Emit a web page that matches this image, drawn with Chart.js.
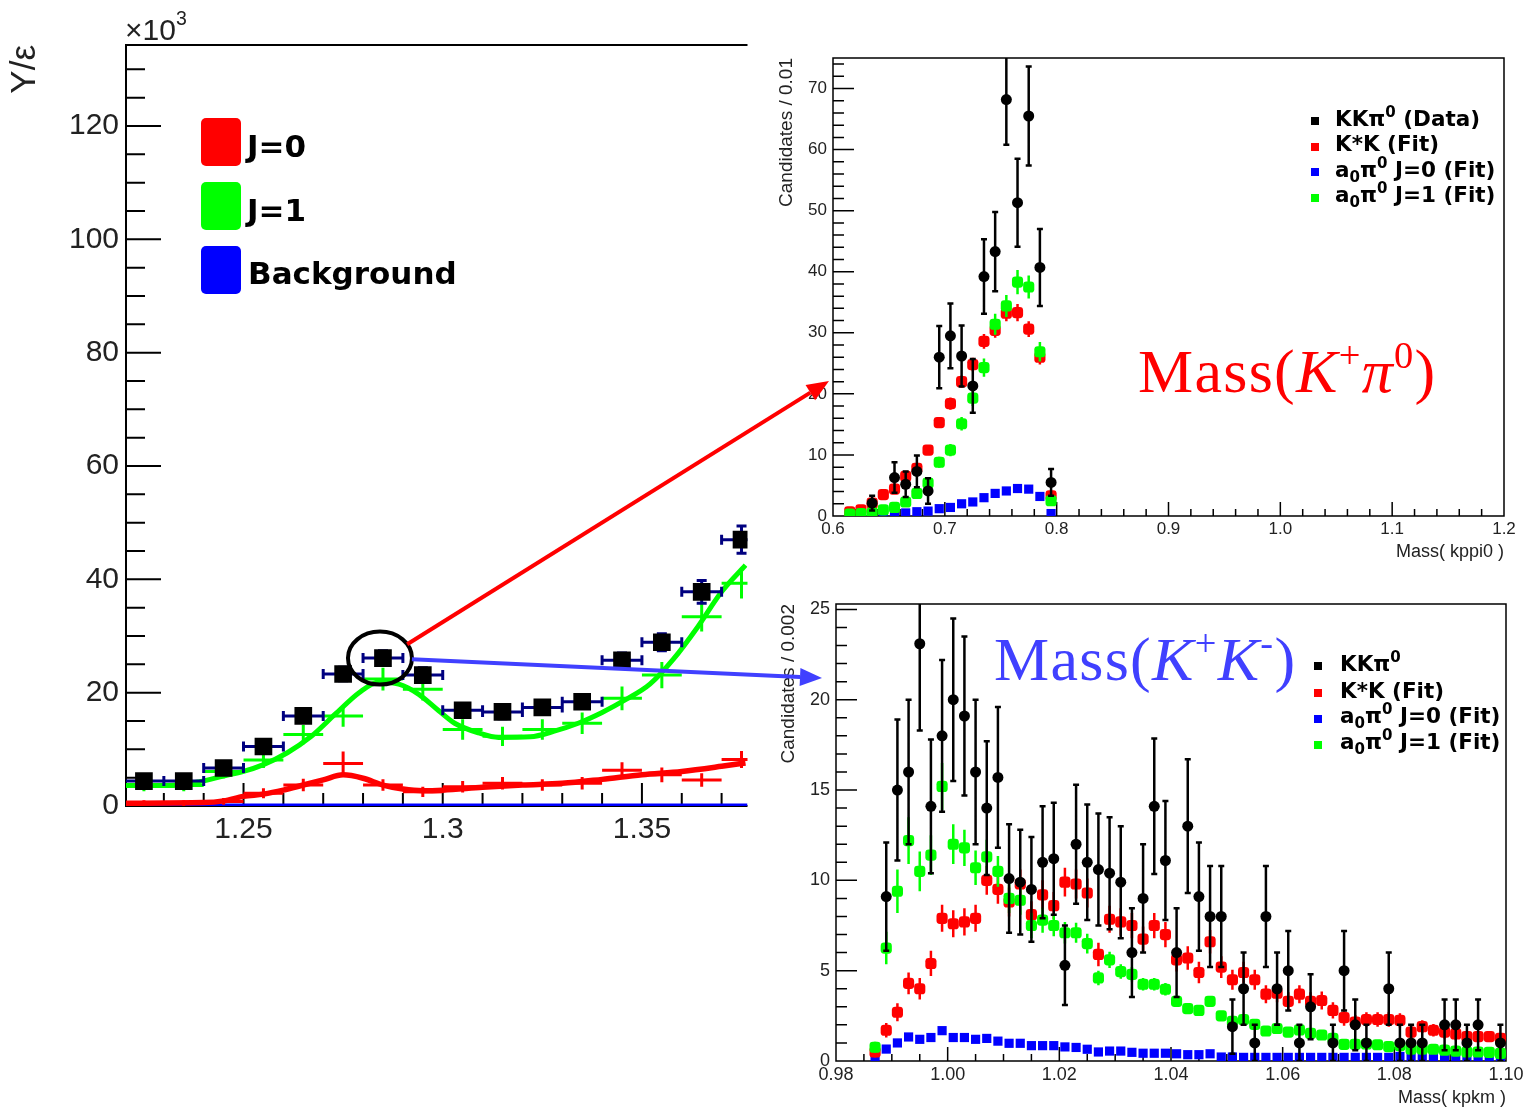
<!DOCTYPE html>
<html>
<head>
<meta charset="utf-8">
<title>KKpi0 mass fits</title>
<script src="https://cdn.jsdelivr.net/npm/chart.js@4.4.1/dist/chart.umd.min.js"></script>
<style>
  html, body { margin: 0; background: #fff; }
  #page { position: relative; width: 1534px; height: 1110px; overflow: hidden; font-family: "Liberation Sans", Arial, sans-serif; }
  #page canvas { position: absolute; }
  .abs { position: absolute; white-space: nowrap; }
  .sw { position: absolute; width: 40px; height: 48px; border-radius: 5px; }
  .big { font: bold 31px/31px "DejaVu Sans", sans-serif; color: #000; }
  .leg { font: bold 21.5px/21.5px "DejaVu Sans", sans-serif; color: #000; }
  .leg sup { font-size: 70%; line-height: 0; vertical-align: 0.6em; }
  .leg sub { font-size: 70%; line-height: 0; vertical-align: -0.3em; }
  .mk { position: absolute; width: 8px; height: 8px; }
  .ann { font: 62px/62px "Liberation Serif", "Times New Roman", serif; letter-spacing: 1.3px; }
  .ann sup { font-size: 62%; line-height: 0; vertical-align: 0.62em; }
  .exp { font: 30px/30px "Liberation Sans", Arial, sans-serif; color: #222; }
  .exp sup { font-size: 65%; line-height: 0; vertical-align: 0.75em; }
</style>
</head>
<body>
<div id="page">
  <canvas id="cLeft" width="760" height="870" style="left:0;top:0"></canvas>
  <canvas id="cTop" width="774" height="540" style="left:760px;top:40px"></canvas>
  <canvas id="cBot" width="774" height="520" style="left:760px;top:590px"></canvas>

  <div class="abs exp" style="left:125px;top:15px">×10<sup>3</sup></div>

  <!-- left panel legend -->
  <div class="sw" style="left:201px;top:118px;background:#ff0000"></div>
  <div class="sw" style="left:201px;top:182px;background:#00ff00"></div>
  <div class="sw" style="left:201px;top:246px;background:#0000ff"></div>
  <div class="abs big" style="left:247px;top:131px">J=0</div>
  <div class="abs big" style="left:247px;top:195px">J=1</div>
  <div class="abs big" style="left:248px;top:258px">Background</div>

  <!-- top right legend -->
  <div class="mk" style="left:1311px;top:117px;background:#000"></div>
  <div class="mk" style="left:1311px;top:143px;background:#ff0000"></div>
  <div class="mk" style="left:1311px;top:168px;background:#0000ff"></div>
  <div class="mk" style="left:1311px;top:194px;background:#00ff00"></div>
  <div class="abs leg" style="left:1335px;top:108px">KKπ<sup>0</sup> (Data)</div>
  <div class="abs leg" style="left:1335px;top:133px">K*K (Fit)</div>
  <div class="abs leg" style="left:1335px;top:159px">a<sub>0</sub>π<sup>0</sup> J=0 (Fit)</div>
  <div class="abs leg" style="left:1335px;top:184px">a<sub>0</sub>π<sup>0</sup> J=1 (Fit)</div>

  <!-- bottom right legend -->
  <div class="mk" style="left:1314px;top:662px;background:#000"></div>
  <div class="mk" style="left:1314px;top:689px;background:#ff0000"></div>
  <div class="mk" style="left:1314px;top:715px;background:#0000ff"></div>
  <div class="mk" style="left:1314px;top:741px;background:#00ff00"></div>
  <div class="abs leg" style="left:1340px;top:653px">KKπ<sup>0</sup></div>
  <div class="abs leg" style="left:1340px;top:680px">K*K (Fit)</div>
  <div class="abs leg" style="left:1340px;top:705px">a<sub>0</sub>π<sup>0</sup> J=0 (Fit)</div>
  <div class="abs leg" style="left:1340px;top:731px">a<sub>0</sub>π<sup>0</sup> J=1 (Fit)</div>

  <div class="abs ann" style="left:1138px;top:340px;color:#ff0000">Mass(<i>K</i><sup>+</sup><i>π</i><sup>0</sup>)</div>
  <div class="abs ann" style="left:994px;top:628px;color:#4040ff">Mass(<i>K</i><sup>+</sup><i>K</i><sup>-</sup>)</div>

  <canvas id="overlay" width="1534" height="1110" style="left:0;top:0;pointer-events:none"></canvas>
</div>

<script>
// ======================== Left panel: Y/eps (x10^3) vs mass ========================
const leftBins = [1.225, 1.235, 1.245, 1.255, 1.265, 1.275, 1.285, 1.295,
  1.305, 1.315, 1.325, 1.335, 1.345, 1.355, 1.365, 1.375];
const leftData = [4.4, 4.4, 6.7, 10.5, 15.9, 23.3, 26.1, 23.1, 16.9, 16.6, 17.4, 18.4, 25.7, 28.9, 37.8, 47.0];
const leftDataErr = [0.8, 0.8, 0.9, 1.0, 1.1, 1.2, 1.3, 1.3, 1.2, 1.2, 1.2, 1.2, 1.3, 1.5, 2.0, 2.4];
const leftJ1 = [3.6, 3.6, 6.1, 8.1, 12.6, 15.9, 22.4, 20.6, 13.5, 12.3, 13.5, 14.6, 19.0, 23.1, 33.4, 39.3];
const leftJ1Err = [1.0, 1.0, 1.2, 1.4, 1.7, 1.9, 2.0, 2.0, 1.8, 1.7, 1.8, 1.9, 2.1, 2.3, 2.6, 2.7];
const leftJ0 = [0.5, 0.5, 0.8, 2.25, 3.7, 7.5, 3.7, 2.5, 3.4, 4.0, 3.7, 4.0, 6.3, 5.5, 4.6, 8.2];
const leftJ0Err = [0.5, 0.5, 0.6, 0.9, 1.1, 2.1, 1.0, 0.9, 1.0, 1.1, 1.0, 1.1, 1.4, 1.3, 1.2, 1.5];
const leftJ1CurveX = [1.220, 1.231, 1.239, 1.245, 1.250, 1.255, 1.261, 1.267, 1.273, 1.279, 1.284, 1.289, 1.294,
  1.299, 1.303, 1.309, 1.314, 1.322, 1.328, 1.334, 1.340, 1.346, 1.352, 1.358, 1.364, 1.370, 1.376];
const leftJ1Curve = [3.6, 3.6, 4.3, 5.3, 6.1, 7.3, 9.4, 12.3, 16.2, 20.0, 21.9, 21.5, 19.7,
  16.8, 14.6, 12.9, 12.1, 12.2, 13.2, 14.6, 16.5, 18.8, 21.5, 26.0, 31.6, 37.8, 42.5];
const leftJ0CurveX = [1.220, 1.240, 1.245, 1.250, 1.255, 1.260, 1.265, 1.270, 1.275, 1.280, 1.285,
  1.290, 1.295, 1.300, 1.310, 1.320, 1.330, 1.340, 1.350, 1.360, 1.370, 1.376];
const leftJ0Curve = [0.5, 0.6, 0.9, 1.7, 2.1, 2.8, 3.7, 4.6, 5.5, 4.9, 3.7,
  3.0, 2.7, 2.8, 3.3, 3.7, 4.0, 4.7, 5.5, 6.1, 7.0, 7.6];
const leftBkgX = [1.2205, 1.3765];
const leftBkg = [0.1, 0.1];
const leftXTicks = [1.25, 1.3, 1.35];
const leftYTicks = [0, 20, 40, 60, 80, 100, 120];
const circledIndex = 6;

// ======================== Top right: Mass(K+ pi0) ========================
const kpiBins = [0.615, 0.625, 0.635, 0.645, 0.655, 0.665, 0.675, 0.685, 0.695, 0.705,
  0.715, 0.725, 0.735, 0.745, 0.755, 0.765, 0.775, 0.785, 0.795];
const kpiData = [null, null, 2.1, null, 6.3, 5.2, 7.3, 4.1, 26.0, 29.5, 26.2, 21.3, 39.2, 43.3, 68.2, 51.3, 65.5, 40.7, 5.5];
const kpiDataErr = [null, null, 1.2, null, 2.5, 2.1, 2.6, 2.1, 5.1, 5.3, 5.0, 4.4, 6.1, 6.5, 7.4, 7.2, 8.1, 6.3, 2.2];
const kpiKstar = [0.7, 1.0, 2.1, 3.5, 4.4, 6.5, 7.8, 10.8, 15.3, 18.4, 22.0, 24.8, 28.6, 30.4, 33.2, 33.3, 30.6, 26.0, 3.3];
const kpiKstarErr = [0.2, 0.3, 0.4, 0.5, 0.6, 0.7, 0.7, 0.8, 0.9, 1.0, 1.0, 1.1, 1.2, 1.2, 1.3, 1.4, 1.3, 1.2, 0.5];
const kpiJ1 = [0.3, 0.4, 0.5, 1.0, 1.4, 2.3, 3.7, 5.4, 8.8, 10.8, 15.1, 19.3, 24.3, 31.4, 34.4, 38.3, 37.5, 26.9, 2.5];
const kpiJ1Err = [0.2, 0.2, 0.3, 0.3, 0.4, 0.5, 0.6, 0.8, 0.9, 1.0, 1.1, 1.3, 1.5, 1.7, 1.8, 2.0, 1.9, 1.6, 0.6];
const kpiJ0 = [0.2, 0.3, 0.3, 0.5, 0.5, 0.5, 0.7, 0.8, 1.2, 1.4, 2.0, 2.3, 3.0, 3.7, 4.1, 4.5, 4.4, 3.2, 0.4];
const kpiXTicks = [0.6, 0.7, 0.8, 0.9, 1.0, 1.1, 1.2];
const kpiYTicks = [0, 10, 20, 30, 40, 50, 60, 70];

// ======================== Bottom right: Mass(K+ K-) ========================
const kkBins = [
  0.987, 0.989, 0.991, 0.993, 0.995, 0.997, 0.999, 1.001, 1.003, 1.005,
  1.007, 1.009, 1.011, 1.013, 1.015, 1.017, 1.019, 1.021, 1.023, 1.025,
  1.027, 1.029, 1.031, 1.033, 1.035, 1.037, 1.039, 1.041, 1.043, 1.045,
  1.047, 1.049, 1.051, 1.053, 1.055, 1.057, 1.059, 1.061, 1.063, 1.065,
  1.067, 1.069, 1.071, 1.073, 1.075, 1.077, 1.079, 1.081, 1.083, 1.085,
  1.087, 1.089, 1.091, 1.093, 1.095, 1.097, 1.099];
const kkData = [
  null, 9.1, 15.0, 16.0, 23.1, 14.1, 18.0, 20.0, 19.1, 16.0,
  14.0, 15.7, 10.1, 9.9, 9.5, 11.0, 11.2, 5.3, 12.0, 11.0,
  10.6, 10.4, 9.9, 6.0, 9.0, 14.1, 11.1, 6.0, 13.0, 9.1,
  8.0, 8.0, 1.9, 4.0, 1.0, 8.0, 4.0, 5.0, 1.0, 3.0,
  null, 1.0, 5.0, 2.0, 1.0, null, 4.0, 1.0, 1.0, 1.0,
  null, 2.0, 2.0, 1.0, 2.0, null, 1.0];
const kkDataErr = [
  null, 3.0, 3.9, 4.0, 4.8, 3.7, 4.2, 4.5, 4.4, 4.0,
  3.7, 3.9, 3.0, 2.9, 2.9, 3.1, 3.1, 2.2, 3.3, 3.2,
  3.1, 3.1, 3.1, 2.45, 3.0, 3.75, 3.3, 2.45, 3.7, 3.0,
  2.8, 2.8, 1.5, 2.0, 1.0, 2.8, 2.0, 2.2, 1.0, 1.8,
  null, 1.0, 2.2, 1.4, 1.0, null, 2.0, 1.0, 1.0, 1.0,
  null, 1.4, 1.4, 1.0, 1.4, null, 1.0];
const kkKstar = [
  0.5, 1.7, 2.7, 4.3, 4.0, 5.4, 7.9, 7.6, 7.7, 7.9,
  10.0, 9.5, 8.8, 9.8, 8.1, 9.2, 8.6, 9.9, 9.8, 9.3,
  5.9, 7.85, 7.7, 7.5, 6.75, 7.5, 7.0, 5.6, 5.7, 4.9,
  6.6, 5.2, 4.5, 4.9, 4.5, 3.7, 3.75, 3.3, 3.7, 3.3,
  3.35, 2.8, 2.4, 2.15, 2.3, 2.3, 2.3, 2.25, 1.6, 1.9,
  1.7, 1.6, 1.5, 1.35, 1.35, 1.35, 1.25];
const kkKstarErr = [
  0.3, 0.4, 0.5, 0.6, 0.6, 0.7, 0.75, 0.75, 0.75, 0.75,
  0.8, 0.8, 0.8, 0.8, 0.75, 0.8, 0.75, 0.8, 0.8, 0.8,
  0.65, 0.75, 0.75, 0.7, 0.7, 0.7, 0.7, 0.65, 0.65, 0.6,
  0.65, 0.6, 0.55, 0.6, 0.55, 0.5, 0.5, 0.5, 0.5, 0.5,
  0.5, 0.45, 0.45, 0.4, 0.4, 0.4, 0.4, 0.4, 0.35, 0.35,
  0.35, 0.35, 0.35, 0.3, 0.3, 0.3, 0.3];
const kkJ1 = [
  0.76, 6.25, 9.4, 12.2, 10.5, 11.4, 15.2, 12.0, 11.8, 10.7,
  11.3, 10.5, 9.0, 8.9, 7.5, 7.8, 7.5, 7.1, 7.1, 6.5,
  4.6, 5.6, 4.95, 4.8, 4.25, 4.25, 3.97, 3.3, 2.9, 2.8,
  3.3, 2.5, 2.2, 2.3, 2.03, 1.66, 1.8, 1.6, 1.72, 1.53,
  1.44, 1.26, 0.92, 0.92, 0.94, 0.9, 0.8, 0.85, 0.66, 0.66,
  0.65, 0.6, 0.55, 0.5, 0.5, 0.48, 0.42];
const kkJ1Err = [
  0.3, 0.9, 1.2, 1.3, 1.1, 1.1, 1.3, 1.1, 1.0, 0.95,
  0.95, 0.85, 0.8, 0.8, 0.7, 0.7, 0.6, 0.6, 0.55, 0.55,
  0.4, 0.45, 0.4, 0.4, 0.35, 0.35, 0.35, 0.3, 0.3, 0.3,
  0.3, 0.25, 0.25, 0.25, 0.25, 0.2, 0.2, 0.2, 0.2, 0.2,
  0.2, 0.2, 0.15, 0.15, 0.15, 0.15, 0.15, 0.15, 0.1, 0.1,
  0.1, 0.1, 0.1, 0.1, 0.1, 0.1, 0.1];
const kkJ0 = [
  0.1, 0.66, 1.0, 1.33, 1.2, 1.3, 1.68, 1.3, 1.3, 1.2,
  1.25, 1.1, 0.98, 0.98, 0.85, 0.85, 0.85, 0.78, 0.75, 0.65,
  0.5, 0.55, 0.55, 0.48, 0.43, 0.43, 0.43, 0.4, 0.35, 0.35,
  0.4, 0.22, 0.22, 0.2, 0.2, 0.2, 0.2, 0.2, 0.2, 0.2,
  0.2, 0.2, 0.2, 0.2, 0.2, 0.2, 0.2, 0.25, 0.2, 0.2,
  0.2, 0.2, 0.2, 0.2, 0.2, 0.2, 0.2];
const kkXTicks = [0.98, 1.00, 1.02, 1.04, 1.06, 1.08, 1.10];
const kkYTicks = [0, 5, 10, 15, 20, 25];

// ======================== helpers ========================
const sans = '"Liberation Sans", Arial, sans-serif';
const RED = '#ff0000', GREEN = '#00ff00', BLUE = '#0000ff';

function pts(xs, ys) { return xs.map((x, i) => ({x, y: ys[i]})); }
function steps(a, b, d) {
  const n = Math.round((b - a) / d);
  return Array.from({length: n + 1}, (_, i) => +(a + i * d).toFixed(6));
}

// error bars drawn just before each dataset's markers
const errorBars = {
  id: 'errorBars',
  beforeDatasetDraw(chart, args) {
    const ds = chart.data.datasets[args.index];
    if (!ds.errY && !ds.errX) return;
    const {ctx, chartArea: a, scales: {x, y}} = chart;
    const cap = ds.cap || 0;
    ctx.save();
    ctx.beginPath();
    ctx.rect(a.left, a.top, a.right - a.left, a.bottom - a.top);
    ctx.clip();
    ctx.strokeStyle = ds.errColor;
    ctx.lineWidth = ds.errWidth;
    ctx.beginPath();
    ds.data.forEach((p, i) => {
      if (p.y == null) return;
      const px = x.getPixelForValue(p.x), py = y.getPixelForValue(p.y);
      const ey = ds.errY ? ds.errY[i] : 0;
      if (ey) {
        const y1 = y.getPixelForValue(p.y - ey), y2 = y.getPixelForValue(p.y + ey);
        ctx.moveTo(px, y1); ctx.lineTo(px, y2);
        if (cap) {
          ctx.moveTo(px - cap, y1); ctx.lineTo(px + cap, y1);
          ctx.moveTo(px - cap, y2); ctx.lineTo(px + cap, y2);
        }
      }
      if (ds.errX) {
        const x1 = x.getPixelForValue(p.x - ds.errX), x2 = x.getPixelForValue(p.x + ds.errX);
        ctx.moveTo(x1, py); ctx.lineTo(x2, py);
        if (cap) {
          ctx.moveTo(x1, py - cap); ctx.lineTo(x1, py + cap);
          ctx.moveTo(x2, py - cap); ctx.lineTo(x2, py + cap);
        }
      }
    });
    ctx.stroke();
    ctx.restore();
  }
};
Chart.register(errorBars);

// ROOT style frame with ticks pointing inward
function rootFrame(cfg) {
  return {
    id: 'rootFrame',
    beforeDatasetsDraw(chart) {
      const {ctx, chartArea: a, scales: {x, y}} = chart;
      ctx.save();
      ctx.strokeStyle = '#000';
      ctx.lineWidth = cfg.lw;
      ctx.beginPath();
      if (cfg.open) {
        ctx.moveTo(a.right, a.top); ctx.lineTo(a.left, a.top);
        ctx.lineTo(a.left, a.bottom); ctx.lineTo(a.right, a.bottom);
      } else {
        ctx.rect(a.left, a.top, a.right - a.left, a.bottom - a.top);
      }
      const tick = (vals, len, isX) => vals.forEach(v => {
        if (isX) {
          const p = x.getPixelForValue(v);
          if (p < a.left - 0.5 || p > a.right + 0.5) return;
          ctx.moveTo(p, a.bottom); ctx.lineTo(p, a.bottom - len);
        } else {
          const p = y.getPixelForValue(v);
          if (p < a.top - 0.5 || p > a.bottom + 0.5) return;
          ctx.moveTo(a.left, p); ctx.lineTo(a.left + len, p);
        }
      });
      tick(cfg.xMajor, cfg.xMajLen, true);
      tick(cfg.xMinor, cfg.xMinLen, true);
      tick(cfg.yMajor, cfg.yMajLen, false);
      tick(cfg.yMinor, cfg.yMinLen, false);
      ctx.stroke();
      ctx.restore();
    }
  };
}

function axis(o) {
  return {
    type: 'linear', min: o.min, max: o.max, bounds: 'data',
    grid: {display: false, drawTicks: false},
    border: {display: false},
    afterBuildTicks: s => { s.ticks = o.ticks.map(value => ({value})); },
    afterFit: s => {
      if (s.isHorizontal()) s.height = o.size; else s.width = o.size;
      s.paddingLeft = s.paddingRight = s.paddingTop = s.paddingBottom = 0;
    },
    ticks: {
      autoSkip: false, maxRotation: 0, minRotation: 0, padding: o.pad, color: '#222',
      font: {family: sans, size: o.fs}, callback: v => o.fmt(v)
    },
    title: {
      display: !!o.title, text: o.title || '', align: 'end', color: '#222',
      font: {family: sans, size: o.tfs}, padding: {top: o.tpad, bottom: o.tpad}
    }
  };
}

function baseOptions(padding, scales) {
  return {
    animation: false, responsive: false, events: [],
    layout: {padding},
    plugins: {legend: {display: false}, tooltip: {enabled: false}},
    scales
  };
}

// ======================== left chart ========================
const leftChart = new Chart(document.getElementById('cLeft'), {
  type: 'scatter',
  data: {
    datasets: [
      {data: pts(leftBins, leftData), pointStyle: 'rect', pointRadius: 12.5, backgroundColor: '#000',
        borderWidth: 0, errY: leftDataErr, errX: 0.005, errColor: '#000080', errWidth: 3, cap: 5},
      {data: pts(leftBins, leftJ1), pointRadius: 0, errY: leftJ1Err, errX: 0.005, errColor: GREEN, errWidth: 3},
      {data: pts(leftBins, leftJ0), pointRadius: 0, errY: leftJ0Err, errX: 0.005, errColor: RED, errWidth: 3},
      {data: pts(leftJ1CurveX, leftJ1Curve), showLine: true, pointRadius: 0, borderColor: GREEN,
        borderWidth: 5, cubicInterpolationMode: 'monotone'},
      {data: pts(leftJ0CurveX, leftJ0Curve), showLine: true, pointRadius: 0, borderColor: RED,
        borderWidth: 5.5, cubicInterpolationMode: 'monotone'},
      {data: pts(leftBkgX, leftBkg), showLine: true, pointRadius: 0, borderColor: BLUE, borderWidth: 4},
    ]
  },
  options: baseOptions({left: 0, right: 10, top: 45, bottom: 0}, {
    x: axis({min: 1.2205, max: 1.3765, ticks: leftXTicks, fmt: v => String(+v.toFixed(2)),
      size: 64, pad: 6, fs: 30}),
    y: axis({min: 0, max: 134.3, ticks: leftYTicks, fmt: v => String(v),
      size: 126, pad: 7, fs: 30, title: 'Y/ε', tfs: 35, tpad: 4}),
  }),
  plugins: [rootFrame({
    open: true, lw: 2,
    xMajor: leftXTicks, xMinor: steps(1.23, 1.37, 0.01), xMajLen: 23, xMinLen: 13,
    yMajor: leftYTicks, yMinor: steps(5, 130, 5), yMajLen: 35, yMinLen: 19
  })]
});

// ======================== top right chart ========================
new Chart(document.getElementById('cTop'), {
  type: 'scatter',
  data: {
    datasets: [
      {data: pts(kpiBins, kpiData), pointStyle: 'circle', pointRadius: 5.5, backgroundColor: '#000',
        borderWidth: 0, errY: kpiDataErr, errColor: '#000', errWidth: 2.5, cap: 3},
      {data: pts(kpiBins, kpiJ1), pointStyle: 'rectRounded', pointRadius: 6.5, backgroundColor: GREEN,
        borderWidth: 0, errY: kpiJ1Err, errColor: GREEN, errWidth: 2.5},
      {data: pts(kpiBins, kpiKstar), pointStyle: 'rectRounded', pointRadius: 6.5, backgroundColor: RED,
        borderWidth: 0, errY: kpiKstarErr, errColor: RED, errWidth: 2.5},
      {data: pts(kpiBins, kpiJ0), pointStyle: 'rect', pointRadius: 6.5, backgroundColor: BLUE, borderWidth: 0},
    ]
  },
  options: baseOptions({left: 0, right: 30, top: 18, bottom: 0}, {
    x: axis({min: 0.6, max: 1.2, ticks: kpiXTicks, fmt: v => v.toFixed(1),
      size: 64, pad: 3, fs: 17, title: 'Mass( kppi0 )', tfs: 18, tpad: 17}),
    y: axis({min: 0, max: 75, ticks: kpiYTicks, fmt: v => String(v),
      size: 73, pad: 6, fs: 17, title: 'Candidates / 0.01', tfs: 19, tpad: 15}),
  }),
  plugins: [rootFrame({
    lw: 1.5,
    xMajor: kpiXTicks, xMinor: steps(0.6, 1.2, 0.02), xMajLen: 14, xMinLen: 7,
    yMajor: kpiYTicks, yMinor: steps(0, 74, 2), yMajLen: 21, yMinLen: 11
  })]
});

// ======================== bottom right chart ========================
new Chart(document.getElementById('cBot'), {
  type: 'scatter',
  data: {
    datasets: [
      {data: pts(kkBins, kkData), pointStyle: 'circle', pointRadius: 5.5, backgroundColor: '#000',
        borderWidth: 0, errY: kkDataErr, errColor: '#000', errWidth: 2.5, cap: 3},
      {data: pts(kkBins, kkJ1), pointStyle: 'rectRounded', pointRadius: 6.5, backgroundColor: GREEN,
        borderWidth: 0, errY: kkJ1Err, errColor: GREEN, errWidth: 2.5},
      {data: pts(kkBins, kkKstar), pointStyle: 'rectRounded', pointRadius: 6.5, backgroundColor: RED,
        borderWidth: 0, errY: kkKstarErr, errColor: RED, errWidth: 2.5},
      {data: pts(kkBins, kkJ0), pointStyle: 'rect', pointRadius: 6.5, backgroundColor: BLUE, borderWidth: 0},
    ]
  },
  options: baseOptions({left: 0, right: 28, top: 14, bottom: 0}, {
    x: axis({min: 0.98, max: 1.10, ticks: kkXTicks, fmt: v => v.toFixed(2),
      size: 49, pad: 3, fs: 18, title: 'Mass( kpkm )', tfs: 18, tpad: 1}),
    y: axis({min: 0, max: 25.3, ticks: kkYTicks, fmt: v => String(v),
      size: 76, pad: 6, fs: 18, title: 'Candidates / 0.002', tfs: 19, tpad: 17}),
  }),
  plugins: [rootFrame({
    lw: 1.5,
    xMajor: kkXTicks, xMinor: steps(0.98, 1.10, 0.005), xMajLen: 14, xMinLen: 7,
    yMajor: kkYTicks, yMinor: steps(0, 25, 1), yMajLen: 21, yMinLen: 11
  })]
});

// ======================== circle + arrows ========================
const redTip = [829, 381], blueTip = [822, 678];
const ov = document.getElementById('overlay').getContext('2d');
const cx = leftChart.scales.x.getPixelForValue(leftBins[circledIndex]) - 3;
const cy = leftChart.scales.y.getPixelForValue(leftData[circledIndex]);
const rx = 32, ry = 26.5;

ov.strokeStyle = '#000';
ov.lineWidth = 4;
ov.beginPath();
ov.ellipse(cx, cy, rx, ry, 0, 0, Math.PI * 2);
ov.stroke();

function arrow(tip, color) {
  const th = Math.atan2(tip[1] - cy, tip[0] - cx);
  const x1 = cx + rx * Math.cos(th), y1 = cy + ry * Math.sin(th);
  const ang = Math.atan2(tip[1] - y1, tip[0] - x1);
  const len = 22, half = 9;
  const bx = tip[0] - len * Math.cos(ang), by = tip[1] - len * Math.sin(ang);
  ov.strokeStyle = color; ov.fillStyle = color; ov.lineWidth = 4;
  ov.beginPath(); ov.moveTo(x1, y1); ov.lineTo(bx, by); ov.stroke();
  ov.beginPath();
  ov.moveTo(tip[0], tip[1]);
  ov.lineTo(bx - half * Math.sin(ang), by + half * Math.cos(ang));
  ov.lineTo(bx + half * Math.sin(ang), by - half * Math.cos(ang));
  ov.closePath(); ov.fill();
}
arrow(redTip, RED);
arrow(blueTip, '#4040ff');
</script>
</body>
</html>
